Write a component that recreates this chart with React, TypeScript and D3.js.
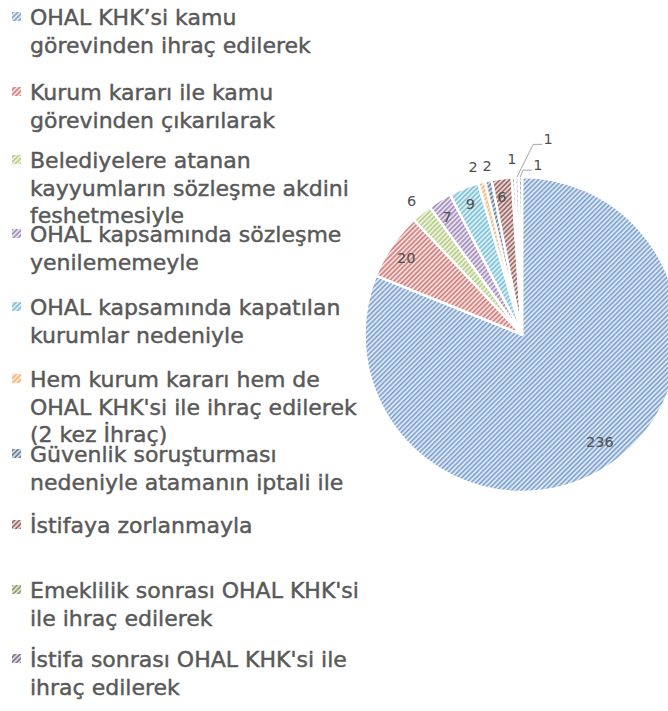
import React from "react";
import * as d3 from "d3";

// ---- data ----
const categories: string[] = [
  "OHAL KHK’si kamu\ngörevinden ihraç edilerek",
  "Kurum kararı ile kamu\ngörevinden çıkarılarak",
  "Belediyelere atanan\nkayyumların sözleşme akdini\nfeshetmesiyle",
  "OHAL kapsamında sözleşme\nyenilememeyle",
  "OHAL kapsamında kapatılan\nkurumlar nedeniyle",
  "Hem kurum kararı hem de\nOHAL KHK'si ile ihraç edilerek\n(2 kez İhraç)",
  "Güvenlik soruşturması\nnedeniyle atamanın iptali ile",
  "İstifaya zorlanmayla",
  "Emeklilik sonrası OHAL KHK'si\nile ihraç edilerek",
  "İstifa sonrası OHAL KHK'si ile\nihraç edilerek",
  "Diğer",
];
const values: number[] = [236, 20, 6, 7, 9, 2, 2, 6, 1, 1, 1];
const colors: string[] = [
  "#4F81BD", "#C0504D", "#9BBB59", "#8064A2", "#4BACC6", "#F79646",
  "#2C4D75", "#772C2A", "#5F7530", "#4D3B62", "#276A7C",
];

// ---- layout ----
const W = 668;
const H = 711;
const CX = 522;
const CY = 334.5;
const R = 157.5;
const legendBaselines = [25, 100, 168, 242, 315, 387, 462, 533, 598, 667, 740];
const legendLineH = 27.5;
// label placement: radius factor k, angle offset (deg), leader line
const labelLayout = [
  { k: 0.845, da: -1.8, leader: false },
  { k: 0.88, da: -1, leader: false },
  { k: 1.1, da: 0, leader: false },
  { k: 0.885, da: -1, leader: false },
  { k: 0.89, da: 0, leader: false },
  { k: 1.108, da: -1.4, leader: false },
  { k: 1.092, da: 0.7, leader: false },
  { k: 0.88, da: -0.9, leader: false },
  { k: 1.116, da: -0.2, leader: false },
  { k: 1.25, da: 9.5, leader: true },
  { k: 1.08, da: 6, leader: true },
];

export default function App() {
  const pie = d3
    .pie<number>()
    .sort(null)
    .value((d) => d)
    .startAngle(0)
    .endAngle(2 * Math.PI);
  const arcs = pie(values);
  const arc = d3.arc<d3.PieArcDatum<number>>().innerRadius(0).outerRadius(R);

  const polar = (angle: number, r: number): [number, number] => [
    CX + r * Math.sin(angle),
    CY - r * Math.cos(angle),
  ];

  return (
    <svg
      width={W}
      height={H}
      style={{ position: "absolute", left: 0, top: 0, background: "#fff" }}
      fontFamily="'DejaVu Sans', sans-serif"
    >
      <defs>
        {colors.map((c, i) => {
          const light = d3.interpolateRgb(c, "#ffffff")(0.15);
          return (
            <pattern
              key={i}
              id={`pat${i}`}
              width={3.4}
              height={3.4}
              patternUnits="userSpaceOnUse"
              patternTransform="rotate(45)"
            >
              <rect width={3.4} height={3.4} fill="#fff" />
              <rect width={3.4} height={3.4} fill={c} opacity={0.2} />
              <rect x={0} width={1.6} height={3.4} fill={light} opacity={0.8} />
            </pattern>
          );
        })}
      </defs>

      {/* pie */}
      <g transform={`translate(${CX},${CY})`}>
        {arcs.map((a, i) => (
          <path
            key={i}
            d={arc(a) || ""}
            fill={`url(#pat${i})`}
            stroke="#fff"
            strokeWidth={2.5}
            strokeLinejoin="round"
          />
        ))}
      </g>

      {/* data labels */}
      <g fontSize={14.5} fill="#505050">
        {arcs.map((a, i) => {
          const L = labelLayout[i];
          const mid = (a.startAngle + a.endAngle) / 2;
          const ang = mid + (L.da * Math.PI) / 180;
          const [x, y] = polar(ang, R * L.k);
          const [ex, ey] = polar(mid, R);
          return (
            <g key={i}>
              {L.leader && (
                <polyline
                  points={`${ex},${ey} ${x - 15},${y + 5} ${x - 6},${y + 5}`}
                  fill="none"
                  stroke="#A6A6A6"
                  strokeWidth={1}
                />
              )}
              <text x={x} y={y} textAnchor="middle" dominantBaseline="central">
                {values[i]}
              </text>
            </g>
          );
        })}
      </g>

      {/* legend (entries beyond the visible area are not drawn) */}
      <g fontSize={22} fill="#595959" stroke="#595959" strokeWidth={0.45}>
        {categories.map((cat, i) => {
          const b = legendBaselines[i];
          if (b > H) return null;
          return (
            <g key={i}>
              <rect
                x={12}
                y={b - 13}
                width={9}
                height={9}
                fill={`url(#pat${i})`}
                stroke="none"
              />
              <text x={30} y={b}>
                {cat.split("\n").map((line, j) => (
                  <tspan key={j} x={30} y={b + j * legendLineH}>
                    {line}
                  </tspan>
                ))}
              </text>
            </g>
          );
        })}
      </g>
    </svg>
  );
}
